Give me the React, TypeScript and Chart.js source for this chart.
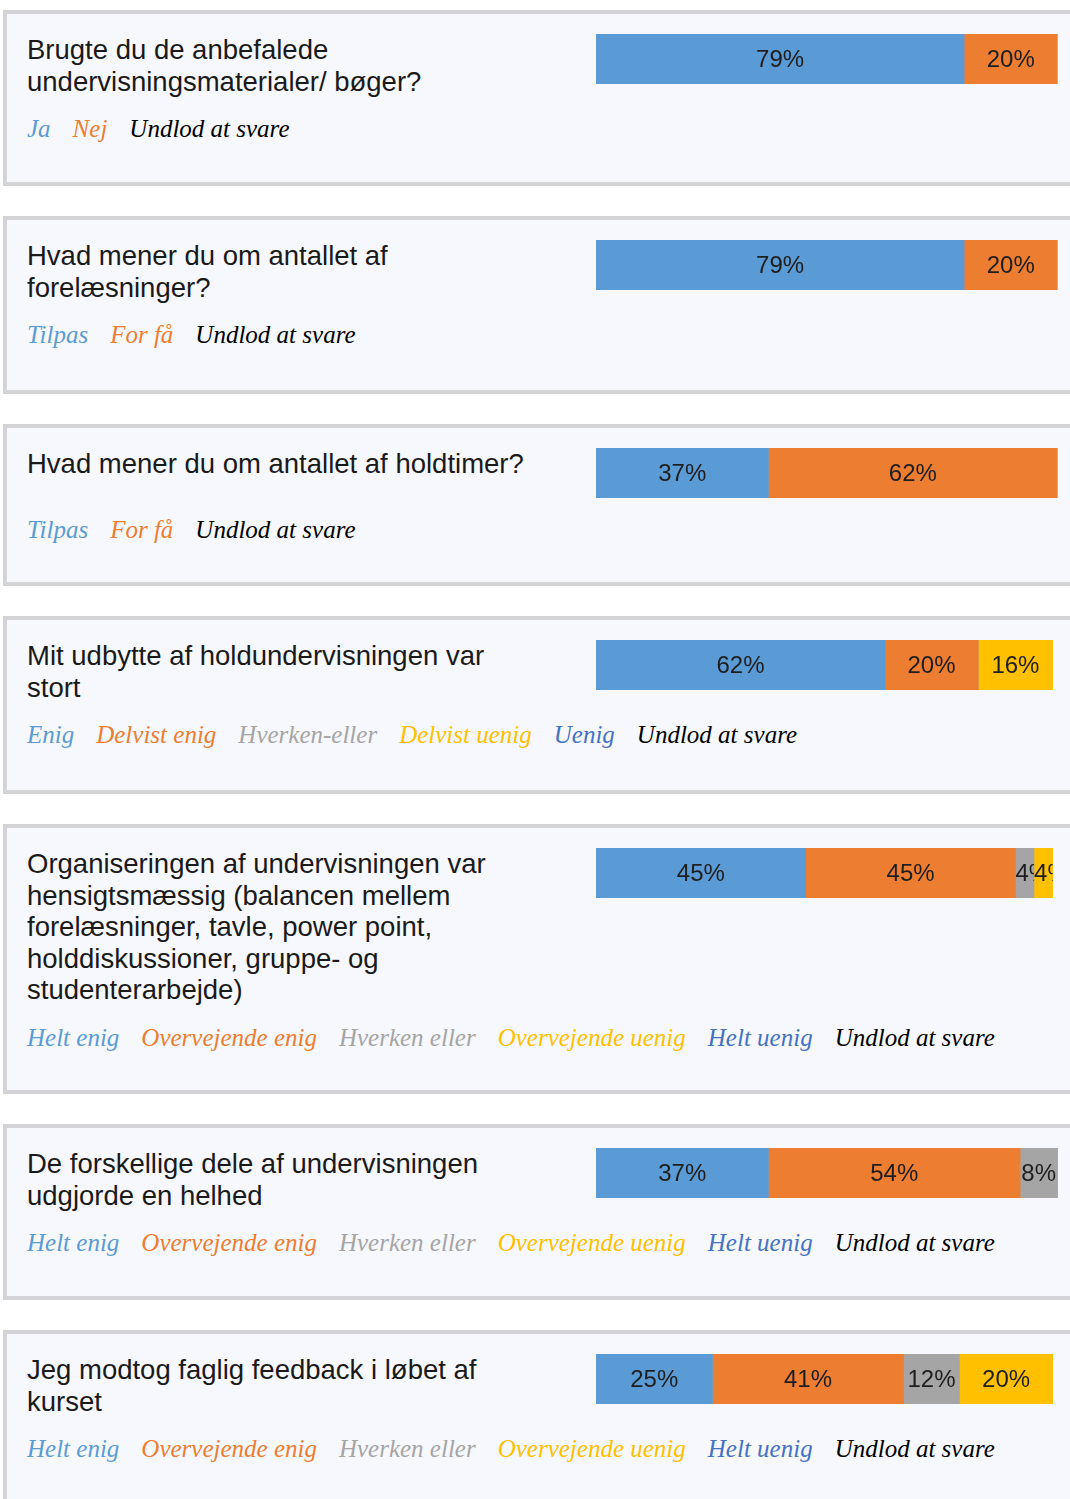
import React, { useEffect, useRef } from "react";
import { Chart, registerables } from "chart.js";

Chart.register(...registerables);

// ---- Data ----
const questions = [
  "Brugte du de anbefalede undervisningsmaterialer/ bøger?",
  "Hvad mener du om antallet af forelæsninger?",
  "Hvad mener du om antallet af holdtimer?",
  "Mit udbytte af holdundervisningen var stort",
  "Organiseringen af undervisningen var hensigtsmæssig (balancen mellem forelæsninger, tavle, power point, holddiskussioner, gruppe- og studenterarbejde)",
  "De forskellige dele af undervisningen udgjorde en helhed",
  "Jeg modtog faglig feedback i løbet af kurset",
];

const labelsJaNej = ["Ja", "Nej", "Undlod at svare"];
const labelsTilpas = ["Tilpas", "For få", "Undlod at svare"];
const labelsEnig = ["Enig", "Delvist enig", "Hverken-eller", "Delvist uenig", "Uenig", "Undlod at svare"];
const labelsHelt = ["Helt enig", "Overvejende enig", "Hverken eller", "Overvejende uenig", "Helt uenig", "Undlod at svare"];

const values1 = [79, 20];
const values2 = [79, 20];
const values3 = [37, 62];
const values4 = [62, 20, 0, 16, 0];
const values5 = [45, 45, 4, 4, 0];
const values6 = [37, 54, 8, 0, 0];
const values7 = [25, 41, 12, 20, 0];

const seriesColors = ["#5b9bd5", "#ed7d31", "#a5a5a5", "#ffc000", "#4472c4"];
const lastLegendColor = "#000000";

const panels = [
  { q: questions[0], legend: labelsJaNej, values: values1 },
  { q: questions[1], legend: labelsTilpas, values: values2 },
  { q: questions[2], legend: labelsTilpas, values: values3 },
  { q: questions[3], legend: labelsEnig, values: values4 },
  { q: questions[4], legend: labelsHelt, values: values5 },
  { q: questions[5], legend: labelsHelt, values: values6 },
  { q: questions[6], legend: labelsHelt, values: values7 },
];

// layout (page pixels)
const panelTops = [10, 216, 424, 616, 824, 1124, 1330];
const panelHeights = [176, 178, 162, 178, 270, 176, 200];

const BAR_W = 466;
const BAR_H = 50;

const segmentLabels = {
  id: "segmentLabels",
  afterDatasetsDraw(chart: any) {
    const ctx = chart.ctx;
    ctx.save();
    ctx.font = "24px 'Liberation Sans', Arial, sans-serif";
    ctx.fillStyle = "#1e1e1e";
    ctx.textBaseline = "middle";
    ctx.textAlign = "left";
    chart.data.datasets.forEach((ds: any, i: number) => {
      const v = ds.data[0];
      if (!v) return;
      const meta = chart.getDatasetMeta(i);
      const el: any = meta.data[0];
      if (!el) return;
      const p = el.getProps(["x", "y", "base", "height"], true);
      const left = Math.min(p.x, p.base);
      const right = Math.max(p.x, p.base);
      const top = p.y - p.height / 2;
      const w = right - left;
      const text = v + "%";
      const tw = ctx.measureText(text).width;
      const tx = tw <= w ? left + (w - tw) / 2 : left;
      ctx.save();
      ctx.beginPath();
      ctx.rect(left, top, w, p.height);
      ctx.clip();
      ctx.fillText(text, tx, p.y + 1);
      ctx.restore();
    });
    ctx.restore();
  },
};

function Bar({ values }: { values: number[] }) {
  const ref = useRef<HTMLCanvasElement>(null);
  useEffect(() => {
    if (!ref.current) return;
    const chart = new Chart(ref.current, {
      type: "bar",
      data: {
        labels: [""],
        datasets: values.map((v, i) => ({
          data: [v],
          backgroundColor: seriesColors[i],
          borderWidth: 0,
          barPercentage: 1,
          categoryPercentage: 1,
        })),
      },
      options: {
        indexAxis: "y",
        responsive: false,
        animation: false,
        events: [],
        layout: { padding: 0 },
        scales: {
          x: { stacked: true, min: 0, max: 100, display: false },
          y: { stacked: true, display: false },
        },
        plugins: { legend: { display: false }, tooltip: { enabled: false } },
      },
      plugins: [segmentLabels],
    } as any);
    return () => chart.destroy();
  }, [values]);
  return (
    <canvas
      ref={ref}
      width={BAR_W}
      height={BAR_H}
      style={{ position: "absolute", left: 589, top: 20, width: BAR_W, height: BAR_H }}
    />
  );
}

function Panel({
  q,
  legend,
  values,
  top,
  height,
}: {
  q: string;
  legend: string[];
  values: number[];
  top: number;
  height: number;
}) {
  return (
    <div
      style={{
        position: "absolute",
        left: 3,
        top,
        height,
        width: 1090,
        boxSizing: "border-box",
        border: "4px solid #d4d4d6",
        background: "#f7f8fd",
        padding: "20px 0 0 20px",
      }}
    >
      <div
        style={{
          fontFamily: "'Liberation Sans', Arial, sans-serif",
          fontSize: 27.5,
          lineHeight: "31.6px",
          color: "#1a1a1a",
          width: 510,
          minHeight: 50,
        }}
      >
        {q}
      </div>
      <div
        style={{
          marginTop: 16,
          lineHeight: "32px",
          height: 32,
          fontFamily: "'Liberation Serif', 'Times New Roman', serif",
          fontStyle: "italic",
          fontSize: 25,
          whiteSpace: "nowrap",
        }}
      >
        {legend.map((l, i) => (
          <span
            key={i}
            style={{
              color: i === legend.length - 1 ? lastLegendColor : seriesColors[i],
              marginRight: 22,
            }}
          >
            {l}
          </span>
        ))}
      </div>
      <Bar values={values} />
    </div>
  );
}

export default function App() {
  return (
    <div
      style={{
        position: "absolute",
        left: 0,
        top: 0,
        width: 1070,
        height: 1499,
        overflow: "hidden",
        background: "#ffffff",
      }}
    >
      {panels.map((p, i) => (
        <Panel
          key={i}
          q={p.q}
          legend={p.legend}
          values={p.values}
          top={panelTops[i]}
          height={panelHeights[i]}
        />
      ))}
    </div>
  );
}
